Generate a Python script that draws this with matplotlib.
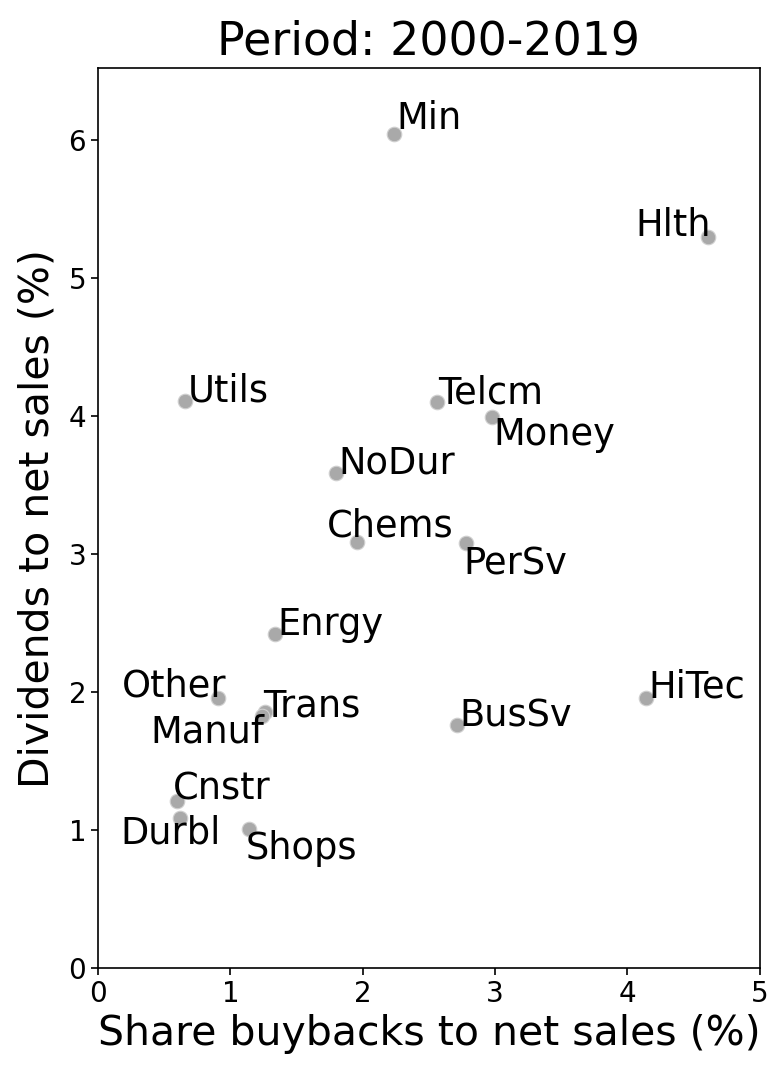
import matplotlib
matplotlib.use('Agg')
import matplotlib.pyplot as plt

# Industry portfolios, 2000-2019
industries = ['Min', 'Hlth', 'Utils', 'Telcm', 'Money', 'NoDur', 'Chems', 'PerSv',
              'Enrgy', 'Other', 'Trans', 'Manuf', 'HiTec', 'BusSv', 'Cnstr', 'Durbl', 'Shops']
buybacks = [2.24, 4.61, 0.66, 2.56, 2.98, 1.80, 1.96, 2.78,
            1.34, 0.91, 1.26, 1.24, 4.14, 2.71, 0.60, 0.62, 1.14]
dividends = [6.04, 5.30, 4.11, 4.10, 3.99, 3.59, 3.09, 3.08,
             2.42, 1.96, 1.86, 1.83, 1.96, 1.76, 1.21, 1.09, 1.01]

# label offsets in pixels (dx right, dy down) from the point to text baseline-left
label_offsets = {
    'Min': (2, -5), 'Hlth': (-73, -1), 'Utils': (2, 1), 'Telcm': (1, 1),
    'Money': (1, 28), 'NoDur': (2, 1), 'Chems': (-31, -5), 'PerSv': (-3, 31),
    'Enrgy': (2, 1), 'Other': (-97, -1), 'Trans': (-2, 5), 'Manuf': (-112, 27),
    'HiTec': (2, 0), 'BusSv': (3, 1), 'Cnstr': (-5, -2), 'Durbl': (-60, 26),
    'Shops': (-3, 30),
}

fig = plt.figure(figsize=(7.84, 10.82), dpi=100)
ax = fig.add_axes([0.125, 0.105, 0.844, 0.832])

ax.scatter(buybacks, dividends, s=110, color='#a9a9a9', edgecolor='#d0d0d0',
           linewidth=0.8, zorder=3)

for name, x, y in zip(industries, buybacks, dividends):
    dx, dy = label_offsets[name]
    ax.annotate(name, (x, y), xytext=(dx, -dy), textcoords='offset pixels',
                ha='left', va='baseline', fontsize=26.5, zorder=4)

ax.set_xlim(0, 5)
ax.set_ylim(0, 6.52)
ax.set_xticks(range(0, 6))
ax.set_yticks(range(0, 7))
ax.tick_params(labelsize=20, width=1.2, length=5)
for sp in ax.spines.values():
    sp.set_linewidth(1.2)

ax.set_xlabel('Share buybacks to net sales (%)', fontsize=29.5, labelpad=4)
ax.set_ylabel('Dividends to net sales (%)', fontsize=29.5, labelpad=8)
ax.set_title('Period: 2000-2019', fontsize=33, pad=10)

fig.savefig('out.png', dpi=100)
